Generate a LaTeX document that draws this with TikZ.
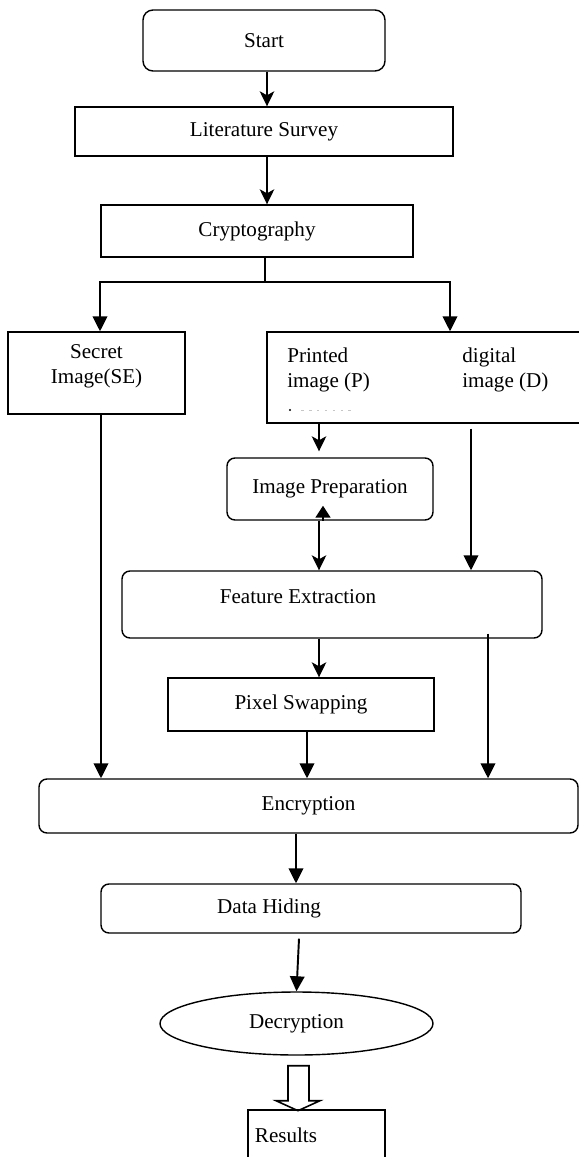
\documentclass[tikz,border=0pt]{standalone}
\usepackage{fontspec}
\setmainfont{Liberation Serif}
\usepackage{tikz}
\usetikzlibrary{shapes.geometric, arrows.meta, positioning, calc}

\begin{document}
\begin{tikzpicture}[
    font=\fontsize{12}{14}\selectfont,
    box/.style={rectangle, draw, line width=0.8pt, align=center, inner sep=0pt},
    roundbox/.style={box, rounded corners=0.16cm},
    oval/.style={ellipse, draw, line width=0.8pt, inner sep=0pt},
    arrow/.style={-{Triangle[length=0.30cm, width=0.29cm]}, line width=1.1pt},
    sarrow/.style={-{Stealth[length=0.30cm, width=0.29cm, inset=0.08cm]}, line width=1.1pt}
]
    \useasboundingbox (0,0) rectangle (11.58,-23.14);

    % Top of the flow
    \node[roundbox, minimum width=4.84cm, minimum height=1.22cm, rounded corners=0.2cm] (start) at (5.28, -0.81) {Start};
    \node[box, minimum width=7.56cm, minimum height=0.98cm] (survey) at (5.28, -2.63) {Literature Survey};
    \node[box, minimum width=6.24cm, minimum height=1.04cm] (crypto) at (5.14, -4.62) {Cryptography};

    % Inputs
    \node[box, minimum width=3.54cm, minimum height=1.64cm] (secret) at (1.93, -7.46) {};
    \node[align=center] (secrettxt) at (1.93, -7.32) {Secret\\Image(SE)};
    \node[box, minimum width=6.36cm, minimum height=1.82cm] (input) at (8.52, -7.55) {};
    \node[anchor=west, align=left, inner sep=0pt] (printtxt) at (5.74, -7.40) {Printed\\image (P)};
    \node[anchor=west, align=left, inner sep=0pt] (digitxt) at (9.24, -7.40) {digital\\image (D)};
    \fill (5.80, -8.20) circle (0.7pt);
    \draw[gray!45, line width=0.6pt, dash pattern=on 1.5pt off 3pt] (6.02, -8.21) -- (7.10, -8.21);

    % Processing
    \node[roundbox, minimum width=4.12cm, minimum height=1.24cm] (prep) at (6.60, -9.78) {Image Preparation};
    \node[roundbox, minimum width=8.40cm, minimum height=1.34cm] (feat) at (6.64, -12.09) {};
    \node (feattxt) at (5.96, -11.94) {Feature Extraction};
    \node[box, minimum width=5.32cm, minimum height=1.06cm] (pixel) at (6.02, -14.09) {Pixel Swapping};

    % Output side
    \node[roundbox, minimum width=10.78cm, minimum height=1.08cm] (enc) at (6.17, -16.12) {Encryption};
    \node[roundbox, minimum width=8.40cm, minimum height=0.98cm] (hiding) at (6.22, -18.17) {};
    \node (hidingtxt) at (5.38, -18.16) {Data Hiding};
    \node[oval, minimum width=5.46cm, minimum height=1.26cm] (dec) at (5.93, -20.47) {Decryption};
    \node[box, minimum width=2.74cm, minimum height=1.0cm] (results) at (6.33, -22.70) {};
    \node (resultstxt) at (5.72, -22.70) {Results};

    % Columns of the vertical connectors
    \coordinate (split) at (5.30, -5.64);
    \coordinate (scol) at (2.02, 0);
    \coordinate (pcol) at (6.38, 0);
    \coordinate (dcol) at (9.42, 0);
    \coordinate (rcol) at (9.76, 0);
    \coordinate (xcol) at (6.14, 0);
    \coordinate (hcol) at (5.92, 0);

    % Arrows
    \draw[sarrow] (start.south -| 5.34,0) -- (survey.north -| 5.34,0);
    \draw[sarrow] (survey.south -| 5.34,0) -- (crypto.north -| 5.34,0);

    \draw[line width=1.1pt] (crypto.south -| split) -- (split);
    \draw[arrow] (split) -| (secret.north -| 2.00,0);
    \draw[arrow] (split) -| (input.north -| 9.00,0);

    \draw[sarrow] (input.south -| pcol) -- ([yshift=0.12cm]prep.north -| pcol);
    \draw[sarrow] (prep.south -| pcol) -- (feat.north -| pcol);
    \draw[-{Triangle[length=0.24cm, width=0.30cm]}, line width=1pt] ([xshift=0.08cm]prep.south -| pcol) -- ++(0, 0.30);
    \draw[arrow] ([yshift=-0.1cm]input.south -| dcol) -- (feat.north -| dcol);

    \draw[sarrow] (feat.south -| pcol) -- (pixel.north -| pcol);
    \draw[arrow] ([yshift=0.1cm]feat.south -| rcol) -- (enc.north -| rcol);
    \draw[arrow] (pixel.south -| xcol) -- (enc.north -| xcol);
    \draw[arrow] (secret.south -| scol) -- (enc.north -| scol);

    \draw[arrow] (enc.south -| hcol) -- (hiding.north -| hcol);
    \draw[arrow] ([xshift=-0.24cm, yshift=-0.1cm]hiding.south) -- (dec.north);

    % Hollow arrow to the results
    \draw[line width=0.9pt] ([xshift=-0.17cm, yshift=-0.2cm]dec.south) -- ++(0.42, 0) -- ++(0, -0.70) -- ++(0.22, 0)
        -- ++(-0.44, -0.20) -- ++(-0.44, 0.20) -- ++(0.24, 0) -- cycle;
\end{tikzpicture}
\end{document}
